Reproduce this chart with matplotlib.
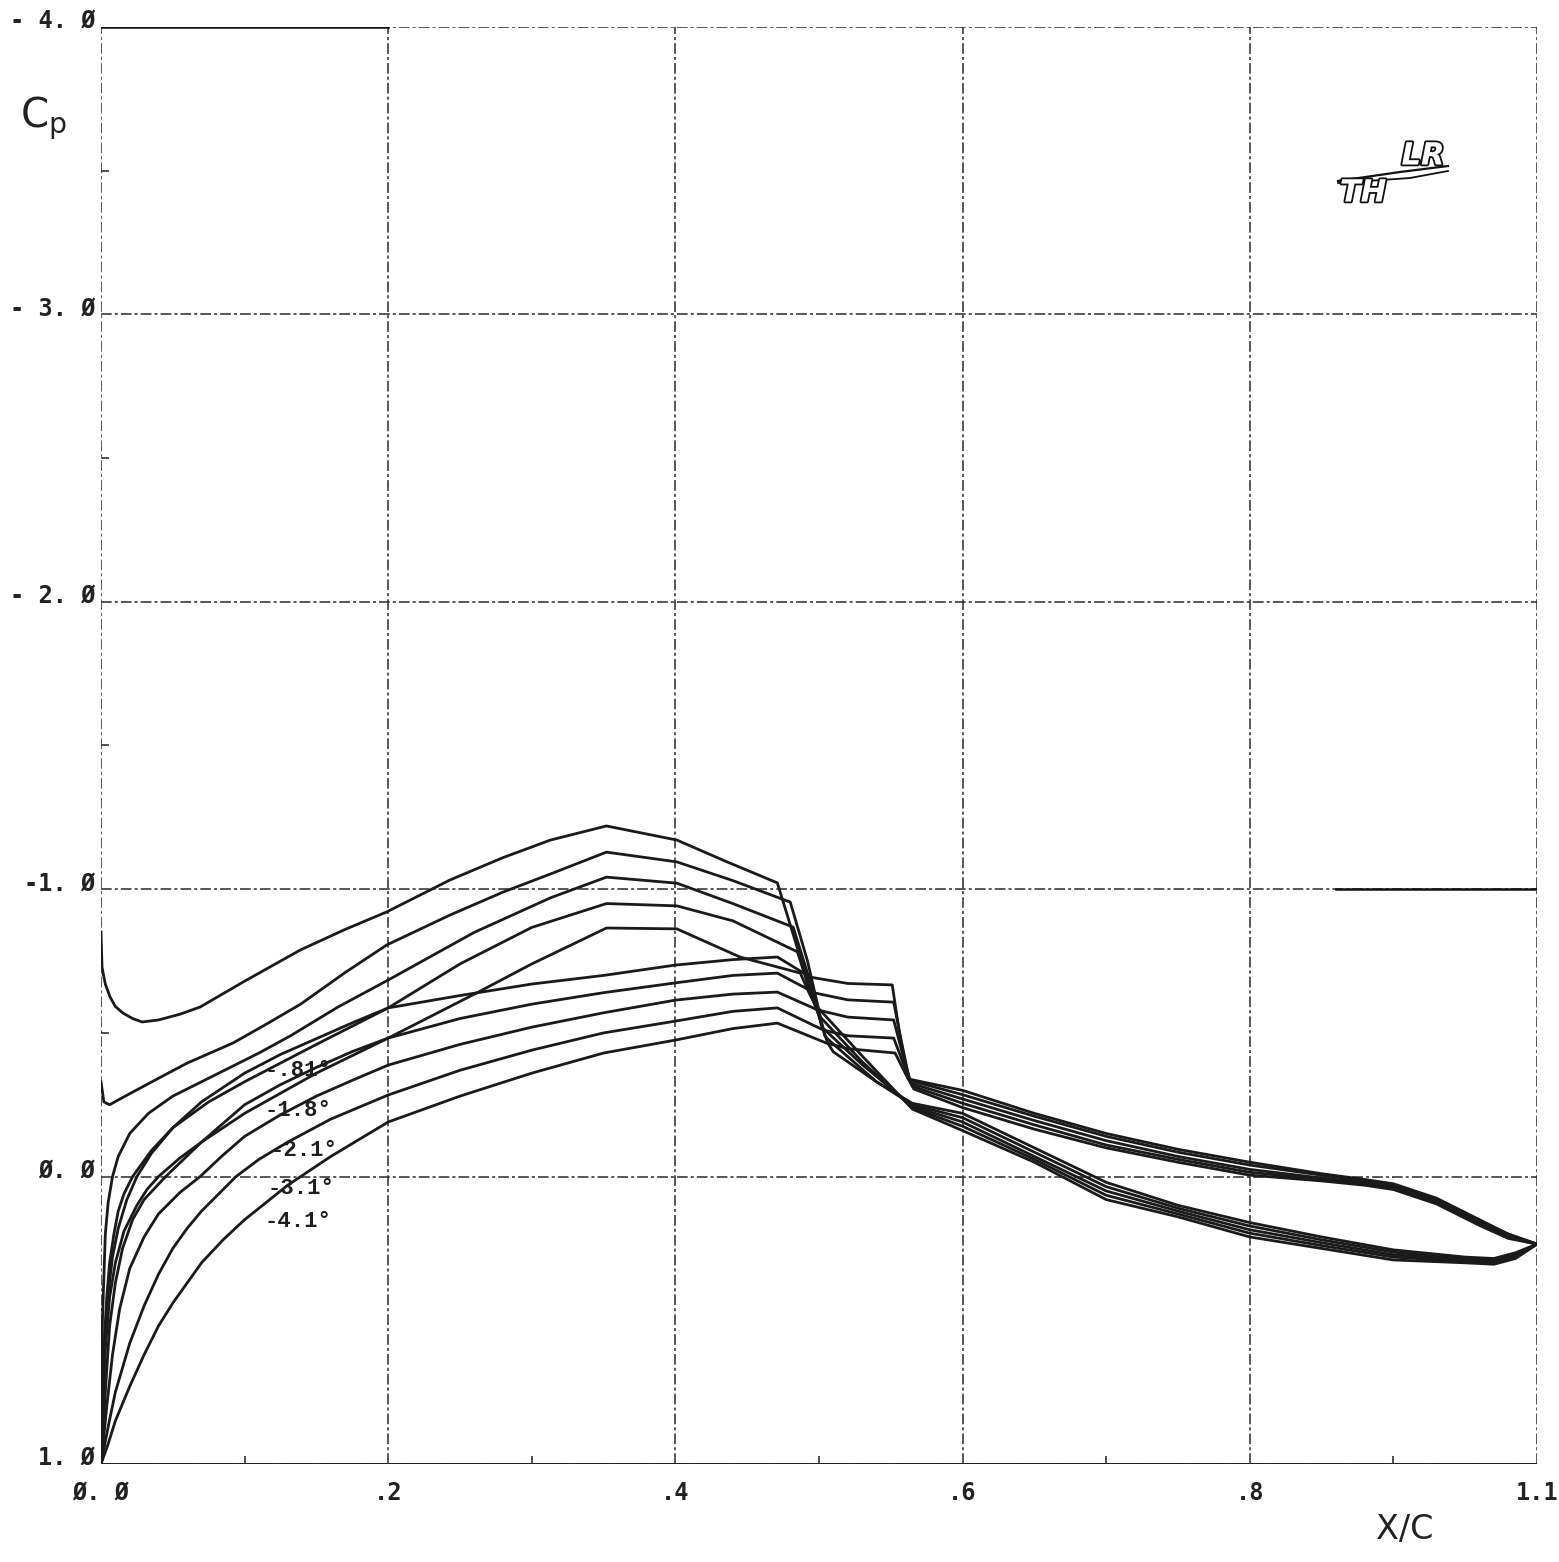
import matplotlib
matplotlib.use("Agg")
import matplotlib.pyplot as plt
import matplotlib.patheffects as pe
from matplotlib.transforms import offset_copy

# ---- pressure distributions, upper surface ----
x_up_081 = [0.0, 0.002, 0.004, 0.008, 0.012, 0.018, 0.025, 0.035, 0.05, 0.07, 0.1, 0.125, 0.15, 0.175, 0.2, 0.25, 0.3, 0.35, 0.4, 0.44, 0.471, 0.494, 0.52, 0.551, 0.556, 0.562, 0.6, 0.65, 0.7, 0.75, 0.8, 0.85, 0.88, 0.9, 0.93, 0.96, 0.98, 1.0]
cp_up_081 = [1.0, 0.7, 0.45, 0.28, 0.18, 0.08, 0.0, -0.08, -0.17, -0.26, -0.36, -0.425, -0.48, -0.535, -0.587, -0.63, -0.67, -0.70, -0.736, -0.755, -0.764, -0.694, -0.672, -0.667, -0.50, -0.34, -0.30, -0.22, -0.15, -0.095, -0.05, -0.01, 0.01, 0.025, 0.075, 0.15, 0.2, 0.235]

x_up_18 = [0.0, 0.003, 0.006, 0.01, 0.015, 0.022, 0.03, 0.045, 0.07, 0.1, 0.125, 0.15, 0.175, 0.2, 0.25, 0.3, 0.35, 0.4, 0.44, 0.471, 0.497, 0.52, 0.552, 0.557, 0.563, 0.6, 0.65, 0.7, 0.75, 0.8, 0.85, 0.88, 0.9, 0.93, 0.96, 0.98, 1.0]
cp_up_18 = [1.0, 0.75, 0.52, 0.37, 0.25, 0.15, 0.08, 0.0, -0.12, -0.25, -0.32, -0.38, -0.435, -0.482, -0.55, -0.60, -0.64, -0.674, -0.70, -0.708, -0.639, -0.615, -0.607, -0.48, -0.335, -0.285, -0.21, -0.14, -0.085, -0.04, -0.005, 0.015, 0.03, 0.08, 0.155, 0.2, 0.235]

x_up_21 = [0.0, 0.004, 0.008, 0.013, 0.02, 0.03, 0.04, 0.055, 0.069, 0.085, 0.1, 0.125, 0.15, 0.175, 0.2, 0.25, 0.3, 0.35, 0.4, 0.44, 0.471, 0.499, 0.52, 0.552, 0.558, 0.564, 0.6, 0.65, 0.7, 0.75, 0.8, 0.85, 0.88, 0.9, 0.93, 0.96, 0.98, 1.0]
cp_up_21 = [1.0, 0.8, 0.62, 0.46, 0.32, 0.21, 0.13, 0.055, 0.0, -0.075, -0.14, -0.215, -0.28, -0.335, -0.388, -0.46, -0.52, -0.57, -0.614, -0.635, -0.642, -0.58, -0.555, -0.545, -0.43, -0.325, -0.27, -0.195, -0.125, -0.07, -0.025, 0.005, 0.02, 0.035, 0.085, 0.16, 0.205, 0.235]

x_up_31 = [0.0, 0.005, 0.01, 0.02, 0.03, 0.04, 0.05, 0.06, 0.07, 0.082, 0.094, 0.11, 0.13, 0.16, 0.2, 0.25, 0.3, 0.35, 0.4, 0.44, 0.471, 0.503, 0.52, 0.552, 0.559, 0.565, 0.6, 0.65, 0.7, 0.75, 0.8, 0.85, 0.88, 0.9, 0.93, 0.96, 0.98, 1.0]
cp_up_31 = [1.0, 0.87, 0.75, 0.58, 0.45, 0.34, 0.25, 0.18, 0.12, 0.06, 0.0, -0.06, -0.12, -0.2, -0.284, -0.37, -0.44, -0.50, -0.541, -0.575, -0.587, -0.51, -0.49, -0.482, -0.39, -0.315, -0.255, -0.18, -0.11, -0.06, -0.015, 0.01, 0.025, 0.04, 0.09, 0.165, 0.21, 0.235]

x_up_41 = [0.0, 0.005, 0.01, 0.02, 0.03, 0.04, 0.05, 0.06, 0.07, 0.085, 0.1, 0.115, 0.13, 0.16, 0.2, 0.25, 0.3, 0.35, 0.4, 0.44, 0.471, 0.505, 0.52, 0.553, 0.56, 0.566, 0.6, 0.65, 0.7, 0.75, 0.8, 0.85, 0.88, 0.9, 0.93, 0.96, 0.98, 1.0]
cp_up_41 = [1.0, 0.93, 0.85, 0.73, 0.62, 0.52, 0.44, 0.37, 0.3, 0.22, 0.15, 0.09, 0.03, -0.07, -0.19, -0.28, -0.36, -0.43, -0.475, -0.515, -0.534, -0.465, -0.445, -0.43, -0.36, -0.305, -0.24, -0.165, -0.10, -0.05, -0.005, 0.015, 0.03, 0.045, 0.095, 0.17, 0.215, 0.235]

# ---- pressure distributions, lower surface ----
x_lo_41 = [0.0, 0.0007, 0.003, 0.0063, 0.01, 0.0153, 0.022, 0.0286, 0.04, 0.055, 0.069, 0.1, 0.139, 0.17, 0.199, 0.243, 0.28, 0.313, 0.352, 0.401, 0.436, 0.471, 0.489, 0.506, 0.51, 0.54, 0.565, 0.6, 0.65, 0.7, 0.75, 0.8, 0.85, 0.9, 0.95, 0.97, 0.985, 1.0]
cp_lo_41 = [-0.851, -0.729, -0.67, -0.625, -0.592, -0.569, -0.55, -0.538, -0.545, -0.565, -0.59, -0.68, -0.789, -0.86, -0.921, -1.032, -1.11, -1.171, -1.22, -1.171, -1.095, -1.022, -0.729, -0.465, -0.434, -0.33, -0.255, -0.22, -0.1, 0.02, 0.1, 0.16, 0.21, 0.255, 0.28, 0.285, 0.265, 0.235]

x_lo_31 = [0.0, 0.002, 0.006, 0.015, 0.034, 0.06, 0.092, 0.115, 0.139, 0.17, 0.199, 0.243, 0.28, 0.313, 0.352, 0.401, 0.44, 0.48, 0.492, 0.504, 0.508, 0.54, 0.565, 0.6, 0.65, 0.7, 0.75, 0.8, 0.85, 0.9, 0.95, 0.97, 0.985, 1.0]
cp_lo_31 = [-0.33, -0.26, -0.25, -0.275, -0.326, -0.395, -0.465, -0.53, -0.60, -0.71, -0.806, -0.91, -0.99, -1.053, -1.129, -1.095, -1.03, -0.955, -0.75, -0.49, -0.47, -0.33, -0.25, -0.205, -0.085, 0.035, 0.11, 0.172, 0.22, 0.263, 0.287, 0.29, 0.27, 0.235]

x_lo_21 = [0.0, 0.001, 0.003, 0.005, 0.008, 0.012, 0.02, 0.033, 0.05, 0.07, 0.09, 0.11, 0.132, 0.165, 0.2, 0.26, 0.313, 0.352, 0.401, 0.44, 0.482, 0.495, 0.502, 0.53, 0.565, 0.6, 0.65, 0.7, 0.75, 0.8, 0.85, 0.9, 0.95, 0.97, 0.985, 1.0]
cp_lo_21 = [0.95, 0.5, 0.2, 0.09, 0.0, -0.07, -0.15, -0.22, -0.28, -0.33, -0.38, -0.43, -0.49, -0.59, -0.684, -0.85, -0.97, -1.042, -1.021, -0.95, -0.868, -0.66, -0.52, -0.39, -0.245, -0.19, -0.07, 0.05, 0.12, 0.185, 0.23, 0.272, 0.29, 0.295, 0.275, 0.235]

x_lo_18 = [0.0, 0.002, 0.004, 0.006, 0.009, 0.012, 0.016, 0.022, 0.035, 0.05, 0.075, 0.1, 0.125, 0.15, 0.2, 0.25, 0.3, 0.352, 0.401, 0.44, 0.485, 0.494, 0.5, 0.53, 0.565, 0.6, 0.65, 0.7, 0.75, 0.8, 0.85, 0.9, 0.95, 0.97, 0.985, 1.0]
cp_lo_18 = [0.97, 0.6, 0.42, 0.3, 0.2, 0.12, 0.06, 0.0, -0.09, -0.17, -0.26, -0.33, -0.395, -0.46, -0.587, -0.74, -0.867, -0.95, -0.942, -0.89, -0.782, -0.64, -0.56, -0.40, -0.24, -0.175, -0.06, 0.065, 0.13, 0.197, 0.24, 0.28, 0.295, 0.3, 0.28, 0.235]

x_lo_081 = [0.0, 0.003, 0.006, 0.01, 0.016, 0.025, 0.032, 0.04, 0.055, 0.07, 0.085, 0.1, 0.125, 0.15, 0.2, 0.262, 0.3, 0.352, 0.401, 0.445, 0.487, 0.493, 0.497, 0.53, 0.565, 0.6, 0.65, 0.7, 0.75, 0.8, 0.85, 0.9, 0.95, 0.97, 0.985, 1.0]
cp_lo_081 = [0.98, 0.6, 0.42, 0.3, 0.19, 0.1, 0.045, 0.0, -0.065, -0.12, -0.17, -0.22, -0.29, -0.36, -0.482, -0.64, -0.74, -0.865, -0.862, -0.764, -0.708, -0.64, -0.60, -0.42, -0.235, -0.16, -0.05, 0.08, 0.14, 0.21, 0.25, 0.29, 0.30, 0.305, 0.285, 0.235]

# angle-of-attack annotations
alpha_labels = ["-.81°", "-1.8°", "-2.1°", "-3.1°", "-4.1°"]
alpha_label_x = [0.114, 0.114, 0.118, 0.116, 0.114]
alpha_label_cp = [-0.37, -0.23, -0.09, 0.04, 0.155]

x_ticks = [0.0, 0.2, 0.4, 0.6, 0.8, 1.0]
x_tick_labels = ["Ø. Ø", ".2", ".4", ".6", ".8", "1.1"]
y_ticks = [-4.0, -3.0, -2.0, -1.0, 0.0, 1.0]
y_tick_labels = ["- 4. Ø", "- 3. Ø", "- 2. Ø", "-1. Ø", "Ø. Ø", "1. Ø"]

W, H = 1559, 1562
fig = plt.figure(figsize=(W / 100, H / 100), dpi=100)
ax = fig.add_axes([101 / W, 1 - 1464 / H, 1436 / W, 1437 / H])
ax.set_xlim(0.0, 1.0)
ax.set_ylim(1.0, -4.0)

grid_style = dict(color="#2a2a2a", lw=1.1, ls=(0, (7, 2, 2, 2)), zorder=1)
for gx in x_ticks:
    ax.axvline(gx, **grid_style)
for gy in y_ticks:
    ax.axhline(gy, **grid_style)
# solid frame segments
ax.plot([0.0, 0.2], [-4.0, -4.0], color="#111111", lw=1.8, zorder=2)
ax.plot([0.0, 1.0], [1.0, 1.0], color="#222222", lw=1.4, zorder=2)
ax.plot([0.86, 1.0], [-1.0, -1.0], color="#111111", lw=1.8, zorder=2)

for s in ax.spines.values():
    s.set_visible(False)

ax.set_xticks(x_ticks)
ax.set_xticklabels(x_tick_labels)
ax.set_yticks(y_ticks)
ax.set_yticklabels([])
ax.tick_params(length=0, labelsize=17, pad=12)
for lab in ax.get_xticklabels():
    lab.set_fontfamily("DejaVu Sans Mono")
    lab.set_fontweight("bold")
    lab.set_color("#222222")
ax.set_xticks([0.1, 0.3, 0.5, 0.7, 0.9], minor=True)
ax.set_yticks([-3.5, -2.5, -1.5, -0.5], minor=True)
ax.tick_params(which="minor", length=6, width=1.2, direction="in", color="#333333")

# y tick labels sit slightly above their grid lines
ylab_trans = offset_copy(ax.get_yaxis_transform(), fig=fig, x=-6, y=6, units="dots")
for gy, lab in zip(y_ticks, y_tick_labels):
    ax.text(0.0, gy, lab, transform=ylab_trans, ha="right", va="center",
            fontsize=17, family="DejaVu Sans Mono", weight="bold", color="#222222")

curve_style = dict(color="#1a1a1a", lw=2.0, solid_joinstyle="round", zorder=3)
for xs, cs in [(x_up_081, cp_up_081), (x_up_18, cp_up_18), (x_up_21, cp_up_21),
               (x_up_31, cp_up_31), (x_up_41, cp_up_41),
               (x_lo_41, cp_lo_41), (x_lo_31, cp_lo_31), (x_lo_21, cp_lo_21),
               (x_lo_18, cp_lo_18), (x_lo_081, cp_lo_081)]:
    ax.plot(xs, cs, **curve_style)

for lab, lx, ly in zip(alpha_labels, alpha_label_x, alpha_label_cp):
    ax.text(lx, ly, lab, fontsize=16, family="Liberation Mono", weight="bold",
            color="#1e1e1e", va="center", ha="left", zorder=4)

# axis titles
fig.text(20 / W, 1 - 118 / H, r"C$_{\mathregular{p}}$", fontsize=29,
         family="DejaVu Sans", color="#222222", va="center", ha="left")
fig.text(1405 / W, 1 - 1530 / H, "X/C", fontsize=24,
         family="DejaVu Sans", color="#222222", va="center", ha="center")

# emblem in the upper right corner
outline = [pe.withStroke(linewidth=2.6, foreground="#111111")]
fig.text(1423 / W, 1 - 156 / H, "LR", fontsize=22, style="italic", weight="bold",
         color="white", ha="center", va="center", path_effects=outline)
fig.text(1363 / W, 1 - 193 / H, "TH", fontsize=22, style="italic", weight="bold",
         color="white", ha="center", va="center", path_effects=outline)
fig.lines.append(plt.Line2D([1338 / W, 1400 / W, 1448 / W], [1 - 181 / H, 1 - 172 / H, 1 - 166 / H],
                            transform=fig.transFigure, color="#111111", lw=1.6))
fig.lines.append(plt.Line2D([1338 / W, 1410 / W, 1448 / W], [1 - 183 / H, 1 - 178 / H, 1 - 171 / H],
                            transform=fig.transFigure, color="#111111", lw=1.3))

fig.savefig("out.png", dpi=100, facecolor="white")
